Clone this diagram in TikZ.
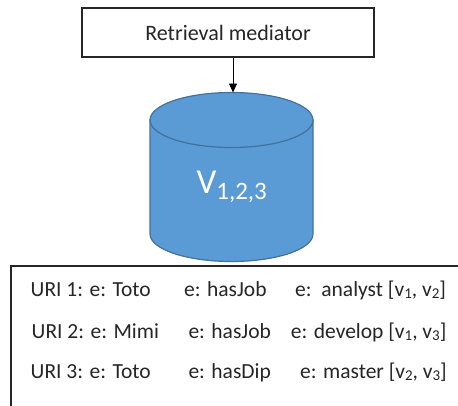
\documentclass[tikz,border=0pt]{standalone}
\usepackage{fontspec}
\setmainfont{Carlito}
\usetikzlibrary{arrows.meta}

\definecolor{dbfill}{HTML}{5B9BD5}
\definecolor{dbline}{HTML}{41719C}
\definecolor{ink}{HTML}{262626}

% small lowered index, Office style
\newcommand\lowidx[1]{\raisebox{-0.13em}{\fontsize{15}{15}\selectfont #1}}

\tikzset{
  box/.style={draw=ink, line width=1.8pt, fill=white},
  rowtext/.style={anchor=base west, inner sep=0pt, text=ink,
    font=\fontsize{21.5}{23}\selectfont},
  dbshape/.style={fill=dbfill, draw=dbline, line width=1.2pt},
  link/.style={draw=black, line width=0.8pt,
    -{Triangle[length=9pt, width=8pt]}},
}

\begin{document}
\begin{tikzpicture}[x=1pt, y=1pt]
  \useasboundingbox (0,0) rectangle (458,-405);
  \clip (0,0) rectangle (458,-405);

  % mediator box
  \node[box, minimum width=292pt, minimum height=49pt, inner sep=0pt,
        text=ink, font=\fontsize{22}{24}\selectfont]
        (med) at (228,-32.5) {Retrieval mediator};

  % database cylinder
  \path[dbshape] (150,-120) -- (150,-234)
      arc[start angle=180, end angle=360, x radius=81.5, y radius=27.5]
      -- (313,-120) -- cycle;
  \path[dbshape] (231.5,-120) ellipse [x radius=81.5, y radius=27.5];
  \coordinate (dbtop) at (233,-92.5);
  \node[anchor=base, inner sep=0pt, text=white]
        (db) at (231.7,-193)
        {\fontsize{35}{35}\selectfont V\raisebox{-6pt}{\fontsize{25}{25}\selectfont 1,2,3}};

  % link from mediator to database
  \draw[link] (med.south -| dbtop) -- (dbtop);

  % table of triples
  \node[box, anchor=north west, minimum width=480pt, minimum height=160pt]
        (tbl) at (10,-265) {};

  \node[rowtext] (r1a) at (30.5,-296) {URI 1: e: Toto};
  \node[rowtext] (r1b) at (184,-296) {e: hasJob};
  \node[rowtext] (r1c) at (295,-296) {e:\ \ analyst [v\lowidx{1}, v\lowidx{2}]};

  \node[rowtext] (r2a) at (31.5,-338) {URI 2: e: Mimi};
  \node[rowtext] (r2b) at (188.3,-338) {e: hasJob};
  \node[rowtext] (r2c) at (290.7,-338) {e: develop [v\lowidx{1}, v\lowidx{3}]};

  \node[rowtext] (r3a) at (30.5,-378) {URI 3: e: Toto};
  \node[rowtext] (r3b) at (188.3,-378) {e: hasDip};
  \node[rowtext] (r3c) at (300,-378) {e: master [v\lowidx{2}, v\lowidx{3}]};
\end{tikzpicture}
\end{document}
